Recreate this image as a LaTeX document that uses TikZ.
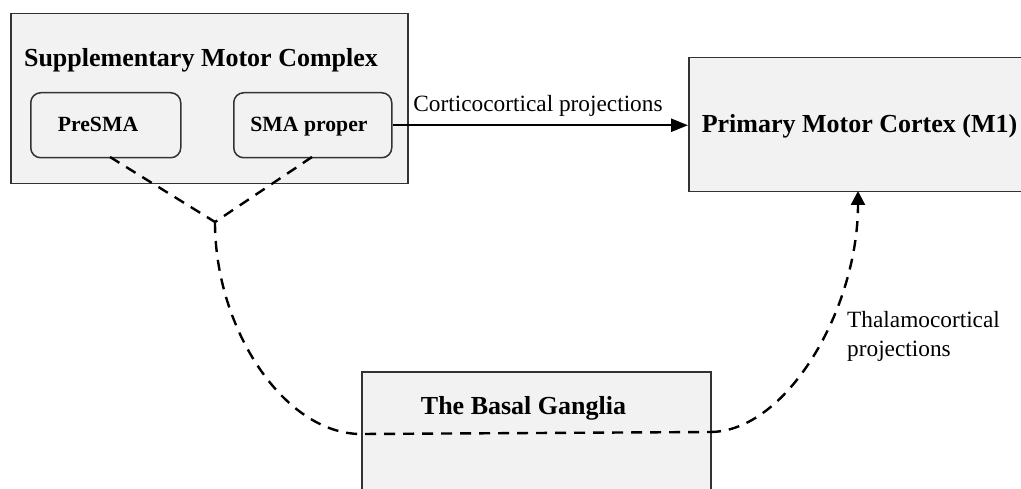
\documentclass[tikz,border=0pt]{standalone}
\usepackage{fontspec}
\setmainfont{Liberation Serif}
\usetikzlibrary{arrows.meta}
\definecolor{boxfill}{HTML}{F2F2F2}
\definecolor{boxline}{HTML}{333333}
\tikzset{
  bigbox/.style={draw=boxline, line width=1.5pt, fill=boxfill, rectangle, anchor=north west, inner sep=0pt},
  subbox/.style={draw=boxline, line width=1.5pt, fill=boxfill, rectangle, rounded corners=10pt, anchor=north west, inner sep=0pt},
  titletext/.style={font=\fontsize{26}{30}\selectfont\bfseries, anchor=base, inner sep=0pt},
  subtext/.style={font=\fontsize{21.7}{26}\selectfont\bfseries, anchor=base, inner sep=0pt},
  labeltext/.style={font=\fontsize{23.3}{28}\selectfont, inner sep=0pt},
  solidconn/.style={line width=2.4pt, -{Triangle[length=17pt,width=13pt]}},
  dashconn/.style={line width=2.4pt, dash pattern=on 11pt off 8pt},
  dasharrow/.style={line width=2.4pt, dash pattern=on 11pt off 8pt, -{Triangle[length=14pt,width=14pt]}}
}
\begin{document}
\begin{tikzpicture}[x=1pt,y=-1pt]
\useasboundingbox (0,0) rectangle (1021,489);
\fill[white] (0,0) rectangle (1021,489);
% boxes
\node[bigbox, minimum width=397pt, minimum height=170pt] (smc) at (10,13) {};
\node[subbox, minimum width=150pt, minimum height=65pt] (presma) at (30,92) {};
\node[subbox, minimum width=158pt, minimum height=65pt] (sma) at (233,92) {};
\node[bigbox, minimum width=350pt, minimum height=134pt] (m1) at (688,57) {};
\node[bigbox, minimum width=349pt, minimum height=140pt] (bg) at (361,371) {};
% texts
\node[titletext] (smct) at (201,67) {Supplementary Motor Complex};
\node[subtext] (presmat) at (98,132) {PreSMA};
\node[subtext] (smat) at (309,132) {SMA proper};
\node[titletext] (m1t) at (859.5,133) {Primary Motor Cortex (M1)};
\node[titletext] (bgt) at (523.5,414) {The Basal Ganglia};
\node[labeltext, anchor=base] (cc) at (538,112) {Corticocortical projections};
\node[labeltext, anchor=base west] (tc1) at (847,328) {Thalamocortical};
\node[labeltext, anchor=base west] (tc2) at (847,356) {projections};
% coordinates for connectors
\coordinate (pbot) at (110,157);
\coordinate (sbot) at (312,157);
\coordinate (junc) at (215,222);
\coordinate (bgl) at (361,434);
\coordinate (bgr) at (710,432);
\coordinate (m1b) at (858,191);
% connectors
\draw[solidconn] (sma.east) -- (m1.west |- sma.east);
\draw[dashconn] (pbot) -- (junc);
\draw[dashconn] (sbot) -- (junc);
\draw[dashconn] (junc) .. controls (215,330) and (285,434) .. (bgl) -- (bgr);
\draw[dasharrow] (bgr) .. controls (786,432) and (858,310) .. (m1b);
\end{tikzpicture}
\end{document}
